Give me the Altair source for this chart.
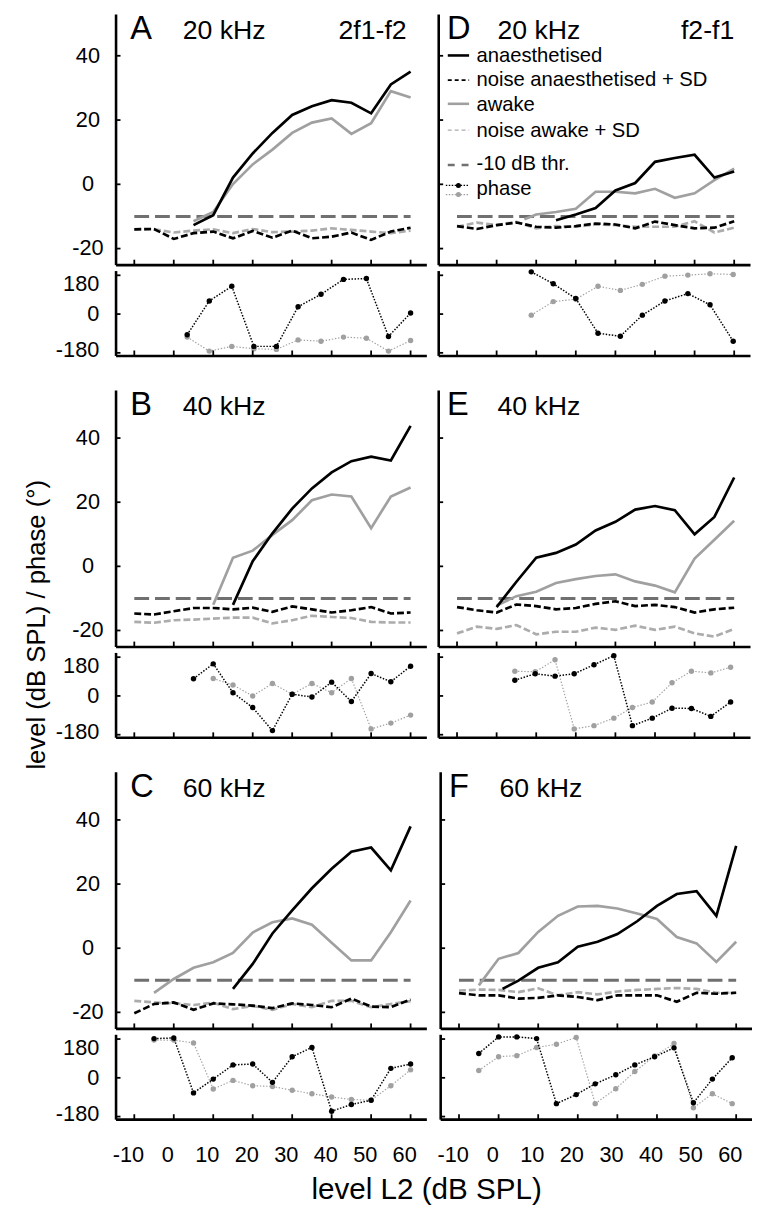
import altair as alt
import pandas as pd

FONT = "Liberation Sans"

# ---------------- shared axis values ----------------
X_TICKS = [-10, 0, 10, 20, 30, 40, 50, 60]
LEVEL_TICKS = [-20, 0, 20, 40]
PHASE_TICKS = [-180, 0, 180]
NOISE_X = [-10, -5, 0, 5, 10, 15, 20, 25, 30, 35, 40, 45, 50, 55, 60]
THR_X = [-10, 60]
THR_Y = [-10, -10]

# ---------------- A : 20 kHz, 2f1-f2 ----------------
A_anaes_x = [5, 10, 15, 20, 25, 30, 35, 40, 45, 50, 55, 60]
A_anaes_y = [-12.7, -9.6, 2.1, 9.6, 16.0, 21.6, 24.3, 26.2, 25.4, 22.1, 31.1, 35.1]
A_awake_x = [5, 10, 15, 20, 25, 30, 35, 40, 45, 50, 55, 60]
A_awake_y = [-11.5, -8.6, 0.1, 6.2, 10.8, 16.0, 19.2, 20.5, 15.7, 19.0, 29.0, 27.0]
A_noise_anaes = [-14.0, -13.9, -17.0, -15.2, -14.7, -16.8, -14.5, -16.6, -14.4, -16.8, -16.3, -15.0, -17.3, -14.7, -13.5]
A_noise_awake = [-14.0, -14.0, -15.0, -14.4, -14.0, -15.2, -13.9, -14.9, -14.7, -14.4, -13.7, -14.2, -14.7, -15.2, -14.4]
A_ph_anaes_x = [3.4, 9.0, 14.7, 20.3, 26.0, 31.5, 37.3, 43.0, 48.8, 54.4, 60.0]
A_ph_anaes = [-96, 61, 129, -150, -150, 34, 92, 161, 165, -104, 5]
A_ph_awake_x = [3.4, 9.0, 14.7, 20.3, 26.0, 31.5, 37.3, 43.0, 48.8, 54.4, 60.0]
A_ph_awake = [-107, -172, -150, -161, -164, -120, -126, -107, -112, -172, -123]

# ---------------- B : 40 kHz, 2f1-f2 ----------------
B_anaes_x = [15, 20, 25, 30, 35, 40, 45, 50, 55, 60]
B_anaes_y = [-12.0, 1.6, 10.3, 18.0, 24.3, 29.3, 32.8, 34.2, 33.0, 43.8]
B_awake_x = [10, 15, 20, 25, 30, 35, 40, 45, 50, 55, 60]
B_awake_y = [-12.0, 2.7, 4.9, 9.8, 14.4, 20.6, 22.4, 21.8, 11.9, 21.8, 24.6]
B_noise_anaes = [-14.7, -15.0, -14.0, -13.0, -13.0, -13.4, -12.9, -14.2, -12.5, -13.4, -14.4, -13.7, -12.7, -14.7, -14.4]
B_noise_awake = [-17.3, -17.6, -16.8, -16.6, -16.3, -16.0, -16.0, -17.8, -16.8, -15.4, -15.8, -16.1, -17.3, -17.5, -17.5]
B_ph_anaes_x = [5, 10, 15, 20, 25, 30, 35, 40, 45, 50, 55, 60]
B_ph_anaes = [80, 149, 15, -54, -161, 8, -5, 64, -26, 104, 66, 138]
B_ph_awake_x = [10, 15, 20, 25, 30, 35, 40, 45, 50, 55, 60]
B_ph_awake = [81, 51, 0, 58, 8, 58, 15, 81, -153, -126, -89]

# ---------------- C : 60 kHz, 2f1-f2 ----------------
C_anaes_x = [15, 20, 25, 30, 35, 40, 45, 50, 55, 60]
C_anaes_y = [-12.7, -4.9, 4.6, 11.8, 18.7, 24.8, 30.1, 31.4, 24.3, 38.0]
C_awake_x = [-5, 0, 5, 10, 15, 20, 25, 30, 35, 40, 45, 50, 55, 60]
C_awake_y = [-13.9, -9.6, -6.1, -4.4, -1.5, 4.9, 8.1, 9.3, 7.3, 1.7, -3.8, -3.8, 5.0, 14.9]
C_noise_anaes = [-20.3, -17.4, -16.9, -19.2, -17.2, -17.5, -17.9, -18.7, -17.2, -17.7, -18.4, -15.7, -18.2, -18.4, -16.0]
C_noise_awake = [-16.4, -16.9, -17.2, -17.7, -17.0, -19.0, -18.0, -19.2, -17.4, -18.4, -16.4, -16.4, -18.4, -17.4, -16.5]
C_ph_anaes_x = [-5, 0, 5, 10, 15, 20, 25, 30, 35, 40, 45, 50, 55, 60]
C_ph_anaes = [182, 185, -70, -6, 60, 64, -21, 98, 141, -155, -124, -104, 44, 64]
C_ph_awake_x = [-5, 0, 5, 10, 15, 20, 25, 30, 35, 40, 45, 50, 55, 60]
C_ph_awake = [175, 175, 162, -52, -12, -37, -40, -58, -74, -89, -101, -104, -37, 37]

# ---------------- D : 20 kHz, f2-f1 ----------------
D_anaes_x = [15, 20, 25, 30, 35, 40, 45, 50, 55, 60]
D_anaes_y = [-11.2, -9.4, -7.4, -1.9, 0.4, 7.0, 8.2, 9.2, 2.1, 4.0]
D_awake_x = [7, 10, 15, 20, 25, 30, 35, 40, 45, 50, 55, 60]
D_awake_y = [-10.9, -9.4, -8.6, -7.6, -2.3, -2.3, -2.8, -1.4, -4.2, -2.8, 1.3, 4.9]
D_noise_anaes = [-13.0, -13.9, -12.7, -11.9, -13.2, -13.5, -13.0, -12.2, -12.5, -13.7, -11.6, -12.7, -13.7, -13.5, -11.5]
D_noise_awake = [-13.2, -11.9, -12.7, -11.7, -13.7, -13.0, -13.2, -12.5, -12.7, -13.2, -13.2, -13.2, -11.5, -15.0, -13.5]
D_ph_anaes_x = [8.75, 14.3, 20.0, 25.6, 31.25, 36.8, 42.5, 48.3, 53.9, 59.75]
D_ph_anaes = [196, 141, 72, -89, -103, -5, 61, 95, 43, -126]
D_ph_awake_x = [8.75, 14.3, 20.0, 25.6, 31.25, 36.8, 42.5, 48.3, 53.9, 59.75]
D_ph_awake = [-5, 58, 69, 129, 110, 138, 176, 181, 187, 184]

# ---------------- E : 40 kHz, f2-f1 ----------------
E_anaes_x = [0, 5, 10, 15, 20, 25, 30, 35, 40, 45, 50, 55, 60]
E_anaes_y = [-12.7, -4.8, 2.7, 4.2, 6.8, 11.2, 13.9, 17.7, 18.8, 17.5, 10.0, 15.4, 27.7]
E_awake_x = [0, 5, 10, 15, 20, 25, 30, 35, 40, 45, 50, 55, 60]
E_awake_y = [-12.2, -9.3, -7.9, -5.2, -4.0, -3.0, -2.5, -4.7, -6.0, -8.1, 2.4, 8.3, 14.2]
E_noise_anaes = [-12.7, -13.7, -14.4, -11.9, -12.4, -13.4, -13.0, -11.7, -10.9, -12.4, -12.0, -12.7, -14.4, -13.4, -12.9]
E_noise_awake = [-20.9, -18.8, -19.5, -18.3, -21.2, -20.4, -20.4, -19.1, -19.8, -18.5, -19.8, -18.8, -20.9, -21.9, -19.5]
E_ph_anaes_x = [4.6, 9.75, 14.75, 19.6, 24.6, 29.6, 34.3, 39.3, 44.3, 49.2, 54.1, 59.1]
E_ph_anaes = [73, 103, 92, 103, 145, 187, -138, -103, -57, -58, -95, -28]
E_ph_awake_x = [4.6, 9.75, 14.75, 19.6, 24.6, 29.6, 34.3, 39.3, 44.3, 49.2, 54.1, 59.1]
E_ph_awake = [115, 112, 168, -153, -138, -103, -54, -28, 61, 115, 107, 133]

# ---------------- F : 60 kHz, f2-f1 ----------------
F_anaes_x = [1, 5, 10, 15, 20, 25, 30, 35, 40, 45, 50, 55, 60]
F_anaes_y = [-12.7, -10.1, -6.1, -4.4, 0.5, 2.0, 4.4, 8.4, 13.2, 16.9, 17.8, 10.1, 31.9]
F_awake_x = [-5, 0, 5, 10, 15, 20, 25, 30, 35, 40, 45, 50, 55, 60]
F_awake_y = [-11.6, -3.3, -1.5, 5.1, 10.1, 13.0, 13.2, 12.4, 10.8, 9.1, 3.5, 1.5, -4.3, 2.0]
F_noise_anaes = [-14.0, -14.7, -14.7, -15.7, -15.5, -14.7, -15.2, -16.2, -14.7, -14.7, -14.7, -16.7, -13.9, -14.2, -13.9]
F_noise_awake = [-13.2, -12.9, -13.0, -13.7, -12.5, -14.7, -13.7, -14.4, -13.5, -13.0, -12.7, -12.4, -12.7, -13.9, -13.9]
F_ph_anaes_x = [-5, 0, 4.6, 9.6, 14.6, 19.6, 24.4, 29.6, 34.4, 39.4, 44.3, 49.2, 54.0, 59.0]
F_ph_anaes = [113, 190, 190, 182, -120, -78, -28, 14, 60, 98, 139, -116, -6, 93]
F_ph_awake_x = [-5, 0, 4.6, 9.6, 14.6, 19.6, 24.4, 29.6, 34.4, 39.4, 44.3, 49.2, 54.0, 59.0]
F_ph_awake = [34, 98, 103, 141, 156, 187, -120, -51, 29, 101, 159, -139, -74, -120]

LETTERS = {"A": "A", "B": "B", "C": "C", "D": "D", "E": "E", "F": "F"}
FREQS = {"A": "20 kHz", "B": "40 kHz", "C": "60 kHz", "D": "20 kHz", "E": "40 kHz", "F": "60 kHz"}
CORNER = {"A": "2f1-f2", "D": "f2-f1"}
LEGEND_LABELS = ["anaesthetised", "noise anaesthetised + SD", "awake",
                 "noise awake + SD", "-10 dB thr.", "phase"]

G = globals()

# ---------------- styling / layout constants ----------------
WIDTHS = [315, 316]
LEVEL_H = [254, 260, 260]
LEVEL_DOM = [[-25, 53], [-25, 55], [-25, 55]]
PHASE_H = 86
PHASE_DOM = [-192, 202]
X_DOM = [-14.75, 64]
BLACK = "#000000"
GREY = "#a0a0a0"
NGREY = "#acacac"
THR = "#707070"
AXW = 2.6
PHASE_LABEL_DY = {-180: -3, 0: 0, 180: 9}
NO_VIEW = alt.ViewBackground(strokeWidth=0, strokeOpacity=0)


def df(xs, ys):
    return pd.DataFrame({"x": xs, "y": ys})


def one():
    return pd.DataFrame({"k": [0]})


def text_layer(txt, x, y, size, align="left"):
    return alt.Chart(pd.DataFrame({"t": [txt]})).mark_text(
        font=FONT, fontSize=size, align=align, baseline="alphabetic", color=BLACK
    ).encode(text="t:N", x=alt.value(x), y=alt.value(y))


def axes(ydom, yvals):
    XS = alt.Scale(domain=X_DOM, nice=False, zero=False)
    YS = alt.Scale(domain=ydom, nice=False, zero=False)
    X = alt.X("x:Q", scale=XS, axis=alt.Axis(values=X_TICKS, labels=False, ticks=False,
              grid=False, title=None, domainColor=BLACK, domainWidth=AXW))
    Y = alt.Y("y:Q", scale=YS, axis=alt.Axis(values=yvals, labels=False, ticks=False,
              grid=False, title=None, domainColor=BLACK, domainWidth=AXW))
    return X, Y


def tick_layers(X, Y, H, yvals):
    return [
        alt.Chart(pd.DataFrame({"x": X_TICKS})).mark_rule(color=BLACK, strokeWidth=1.8)
        .encode(x=X, y=alt.value(H), y2=alt.value(H - 5)),
        alt.Chart(pd.DataFrame({"y": yvals})).mark_rule(color=BLACK, strokeWidth=1.8)
        .encode(y=Y, x=alt.value(0), x2=alt.value(5)),
    ]


def level_panel(key, col, row):
    H = LEVEL_H[row]
    left = col == 0
    X, Y = axes(LEVEL_DOM[row], LEVEL_TICKS)
    L = []
    L.append(alt.Chart(df(THR_X, THR_Y)).mark_line(color=THR, strokeWidth=3, strokeDash=[15, 6]).encode(x=X, y=Y))
    L.append(alt.Chart(df(NOISE_X, G[key + "_noise_awake"])).mark_line(color=NGREY, strokeWidth=2.7, strokeDash=[7, 3]).encode(x=X, y=Y))
    L.append(alt.Chart(df(NOISE_X, G[key + "_noise_anaes"])).mark_line(color=BLACK, strokeWidth=2.7, strokeDash=[7, 3]).encode(x=X, y=Y))
    L.append(alt.Chart(df(G[key + "_awake_x"], G[key + "_awake_y"])).mark_line(color=GREY, strokeWidth=2.7).encode(x=X, y=Y))
    L.append(alt.Chart(df(G[key + "_anaes_x"], G[key + "_anaes_y"])).mark_line(color=BLACK, strokeWidth=2.7).encode(x=X, y=Y))
    L += tick_layers(X, Y, H, LEVEL_TICKS)
    if left:
        L.append(alt.Chart(pd.DataFrame({"y": LEVEL_TICKS, "t": [str(v) for v in LEVEL_TICKS]}))
                 .mark_text(font=FONT, fontSize=22, align="center", baseline="middle", color=BLACK)
                 .encode(y=Y, text="t:N", x=alt.value(-28)))
    # panel annotations
    base = 25
    lx = 15 if left else 9
    fx = 68 if left else 60
    L.append(text_layer(LETTERS[key], lx, base, 33))
    L.append(text_layer(FREQS[key], fx, base, 27))
    if key in CORNER:
        L.append(text_layer(CORNER[key], 295 if left else 300, base, 27, align="right"))
    if key == "D":
        L += legend_layers()
    return alt.layer(*L).properties(width=WIDTHS[col], height=H, view=NO_VIEW)


def legend_layers():
    x0, x1, tx = 9.7, 31.3, 38.7
    line_y = [42, 67, 91, 117.7, 153]
    text_y = [48.7, 72.5, 98.7, 124.3, 157.7, 183]
    styles = [
        dict(color=BLACK, strokeWidth=2.6),
        dict(color=BLACK, strokeWidth=1.6, strokeDash=[4, 3]),
        dict(color=GREY, strokeWidth=2.6),
        dict(color=NGREY, strokeWidth=1.4, strokeDash=[4, 3]),
        dict(color=THR, strokeWidth=2.6, strokeDash=[7, 7]),
    ]
    out = []
    for ly, st in zip(line_y, styles):
        out.append(alt.Chart(one()).mark_rule(**st).encode(
            x=alt.value(x0), x2=alt.value(x1), y=alt.value(ly)))
    for ly, c, w in [(173.7, BLACK, 1.3), (183, GREY, 1.1)]:
        out.append(alt.Chart(one()).mark_rule(color=c, strokeWidth=w, strokeDash=[1.5, 1.5]).encode(
            x=alt.value(x0 - 2), x2=alt.value(x1), y=alt.value(ly)))
        out.append(alt.Chart(one()).mark_point(color=c, filled=True, opacity=1, size=26).encode(
            x=alt.value((x0 + x1) / 2), y=alt.value(ly)))
    for lab, ty in zip(LEGEND_LABELS, text_y):
        out.append(text_layer(lab, tx, ty, 20.5))
    return out


def phase_panel(key, col, row):
    left = col == 0
    bottom = row == 2
    X, Y = axes(PHASE_DOM, PHASE_TICKS)
    L = []
    da = df(G[key + "_ph_awake_x"], G[key + "_ph_awake"])
    dn = df(G[key + "_ph_anaes_x"], G[key + "_ph_anaes"])
    L.append(alt.Chart(da).mark_line(color=GREY, strokeWidth=1.2, strokeDash=[1.4, 1.8]).encode(x=X, y=Y))
    L.append(alt.Chart(da).mark_point(color=GREY, filled=True, opacity=1, size=30).encode(x=X, y=Y))
    L.append(alt.Chart(dn).mark_line(color=BLACK, strokeWidth=1.5, strokeDash=[1.5, 1.6]).encode(x=X, y=Y))
    L.append(alt.Chart(dn).mark_point(color=BLACK, filled=True, opacity=1, size=30).encode(x=X, y=Y))
    L += tick_layers(X, Y, PHASE_H, PHASE_TICKS)
    if left:
        for v in PHASE_TICKS:
            L.append(alt.Chart(pd.DataFrame({"y": [v], "t": [str(v)]}))
                     .mark_text(font=FONT, fontSize=22, align="right", baseline="middle",
                                color=BLACK, dy=PHASE_LABEL_DY[v])
                     .encode(y=Y, text="t:N", x=alt.value(-16.5)))
    if bottom:
        L.append(alt.Chart(pd.DataFrame({"x": X_TICKS, "t": [str(v) for v in X_TICKS]}))
                 .mark_text(font=FONT, fontSize=22, align="center", baseline="alphabetic",
                            color=BLACK, dx=-6)
                 .encode(x=X, text="t:N", y=alt.value(PHASE_H + 43)))
    return alt.layer(*L).properties(width=WIDTHS[col], height=PHASE_H, view=NO_VIEW)


def cell(key, col, row):
    return alt.vconcat(level_panel(key, col, row), phase_panel(key, col, row),
                       spacing=6, bounds="flush")


ROWS = [("A", "D"), ("B", "E"), ("C", "F")]
rows = []
for r, (lk, rk) in enumerate(ROWS):
    h = alt.hconcat(cell(lk, 0, r), cell(rk, 1, r), spacing=11)
    if r == 2:
        h = h.properties(title=alt.TitleParams("level L2 (dB SPL)", orient="bottom", anchor="middle",
                                               font=FONT, fontSize=30, fontWeight="normal",
                                               color=BLACK, offset=10, dx=23))
    rows.append(h)

chart = alt.vconcat(*rows, spacing=28).properties(
    title=alt.TitleParams("level (dB SPL) / phase (°)", orient="left", anchor="middle",
                          font=FONT, fontSize=26, fontWeight="normal", color=BLACK,
                          offset=6, dx=-16),
    padding={"left": 16, "top": -3, "right": 0, "bottom": 0},
).configure_view(strokeWidth=0, stroke="transparent")

chart.save("out.html", embed_options={"renderer": "svg", "actions": False})
